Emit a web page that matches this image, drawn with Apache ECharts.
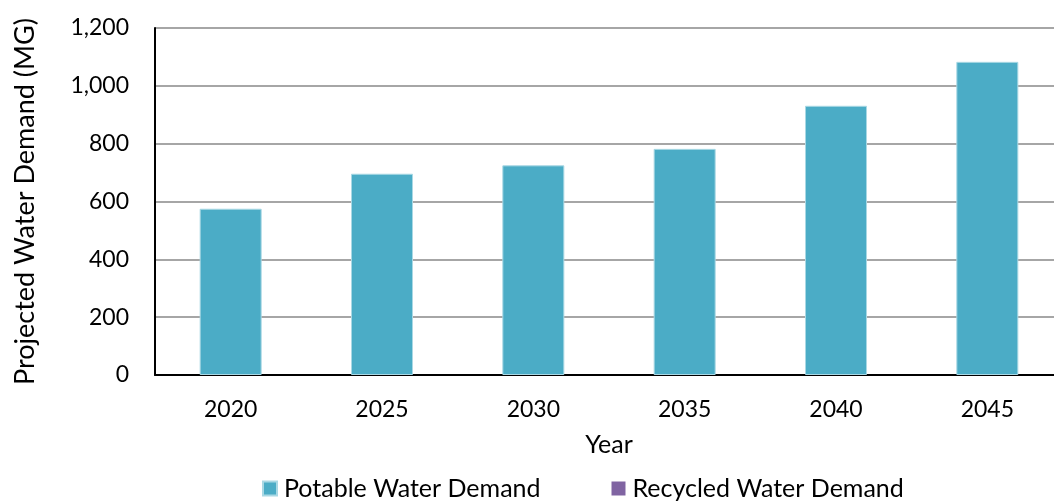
<!DOCTYPE html>
<html>
<head>
<meta charset="utf-8">
<script src="https://cdn.jsdelivr.net/npm/echarts@6/dist/echarts.min.js"></script>
<style>
  html, body { margin: 0; padding: 0; background: #fff; }
  #chart { width: 1054px; height: 502px; }
</style>
</head>
<body>
<div id="chart"></div>
<script>
// Projected water demand by year, million gallons
const years = ['2020', '2025', '2030', '2035', '2040', '2045'];
const potableDemand = [575, 696, 725, 782, 931, 1083];
const recycledDemand = [0, 0, 0, 0, 0, 0];
const yTicks = { min: 0, max: 1200, interval: 200 };

const FONT = 'Lato, "Open Sans", sans-serif';
const chart = echarts.init(document.getElementById('chart'));

chart.setOption({
  animation: false,
  textStyle: { fontFamily: FONT, color: '#000' },
  grid: {
    left: 155, top: 28, width: 908, height: 347,
    containLabel: false, outerBoundsMode: 'none'
  },
  legend: {
    top: 471,
    left: 257,
    padding: 5,
    itemWidth: 14,
    itemHeight: 14,
    itemGap: 71,
    icon: 'rect',
    textStyle: { fontFamily: FONT, fontSize: 25, color: '#000', padding: [0, 0, 0, 2] },
    data: ['Potable Water Demand', 'Recycled Water Demand']
  },
  xAxis: {
    type: 'category',
    data: years,
    name: 'Year',
    nameLocation: 'middle',
    nameGap: 57,
    nameTextStyle: { fontFamily: FONT, fontSize: 25, color: '#000' },
    axisLine: { lineStyle: { color: '#000', width: 2 } },
    axisTick: { show: false },
    axisLabel: { fontFamily: FONT, fontSize: 23, color: '#000', margin: 23 }
  },
  yAxis: {
    type: 'value',
    min: yTicks.min,
    max: yTicks.max,
    interval: yTicks.interval,
    name: 'Projected Water Demand (MG)',
    nameLocation: 'middle',
    nameGap: 116,
    nameTextStyle: { fontFamily: FONT, fontSize: 27, color: '#000' },
    axisLine: { show: true, lineStyle: { color: '#000', width: 2 } },
    axisTick: { show: false },
    axisLabel: {
      fontFamily: FONT, fontSize: 23, color: '#000', margin: 26,
      formatter: v => v.toLocaleString('en-US')
    },
    splitLine: { lineStyle: { color: '#A6A6A6', width: 2 } }
  },
  series: [
    {
      name: 'Potable Water Demand',
      type: 'bar',
      stack: 'demand',
      barWidth: 62,
      data: potableDemand,
      itemStyle: { color: '#4BACC6', borderColor: '#A9D8E4', borderWidth: 1 }
    },
    {
      name: 'Recycled Water Demand',
      type: 'bar',
      stack: 'demand',
      barWidth: 62,
      data: recycledDemand,
      itemStyle: { color: '#8064A2' }
    }
  ]
});
</script>
</body>
</html>
